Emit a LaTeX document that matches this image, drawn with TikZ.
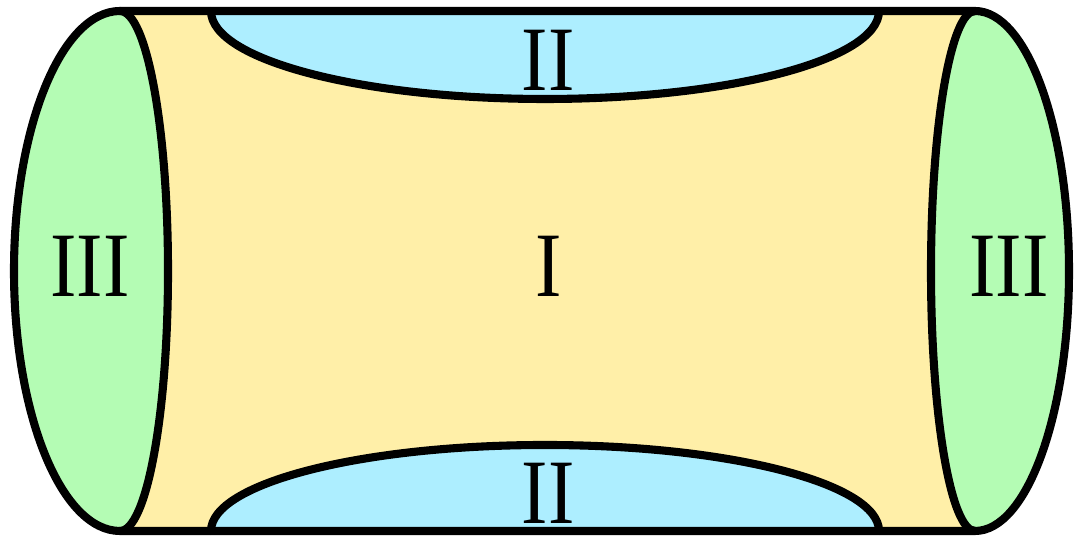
\documentclass[tikz,border=0pt]{standalone}
\usepackage{fontspec}
\setmainfont{Liberation Serif}
\usepackage{tikz}
\usetikzlibrary{positioning}
\definecolor{zoneyellow}{HTML}{FFEFA8}
\definecolor{zoneblue}{HTML}{ADEEFF}
\definecolor{zonegreen}{HTML}{B4FCB4}
\begin{document}
\begin{tikzpicture}[
  x=0.01cm, y=0.01cm,
  outline/.style={draw=black, line width=2.3pt, line join=round, line cap=round},
  zonelabel/.style={inner sep=0pt, font=\fontsize{26.2}{31}\selectfont},
]
\useasboundingbox (0,0) rectangle (1075,537);

% region I
\fill[zoneyellow] (120,526) arc[start angle=90, end angle=-90, x radius=48, y radius=260]
  -- (975,6) arc[start angle=270, end angle=90, x radius=44, y radius=260] -- cycle;
% regions II
\fill[zoneblue] (211,526) arc[start angle=180, end angle=360, x radius=334, y radius=88] -- cycle;
\fill[zoneblue] (211,6) arc[start angle=180, end angle=0, x radius=334, y radius=86] -- cycle;
% regions III
\fill[zonegreen] (120,526) arc[start angle=90, end angle=270, x radius=106, y radius=260]
  arc[start angle=270, end angle=450, x radius=48, y radius=260] -- cycle;
\fill[zonegreen] (975,526) arc[start angle=90, end angle=270, x radius=44, y radius=260]
  arc[start angle=-90, end angle=90, x radius=94, y radius=260] -- cycle;

% borders
\draw[outline] (211,526) arc[start angle=180, end angle=360, x radius=334, y radius=88];
\draw[outline] (211,6) arc[start angle=180, end angle=0, x radius=334, y radius=86];
\draw[outline] (120,526) arc[start angle=90, end angle=-90, x radius=48, y radius=260];
\draw[outline] (975,526) arc[start angle=90, end angle=270, x radius=44, y radius=260];
\draw[outline] (120,526) -- (975,526)
  arc[start angle=90, end angle=-90, x radius=94, y radius=260]
  -- (120,6) arc[start angle=270, end angle=90, x radius=106, y radius=260] -- cycle;

% labels
\node[zonelabel] (lblI) at (549,271) {\scalebox{0.86}[1]{I}};
\node[zonelabel] (lblIIup) at (548,477) {\scalebox{0.86}[1]{II}};
\node[zonelabel] (lblIIdown) at (548,44) {\scalebox{0.86}[1]{II}};
\node[zonelabel] (lblIIIleft) at (90,271) {\scalebox{0.86}[1]{III}};
\node[zonelabel] (lblIIIright) at (1009,271) {\scalebox{0.86}[1]{III}};
\end{tikzpicture}
\end{document}
